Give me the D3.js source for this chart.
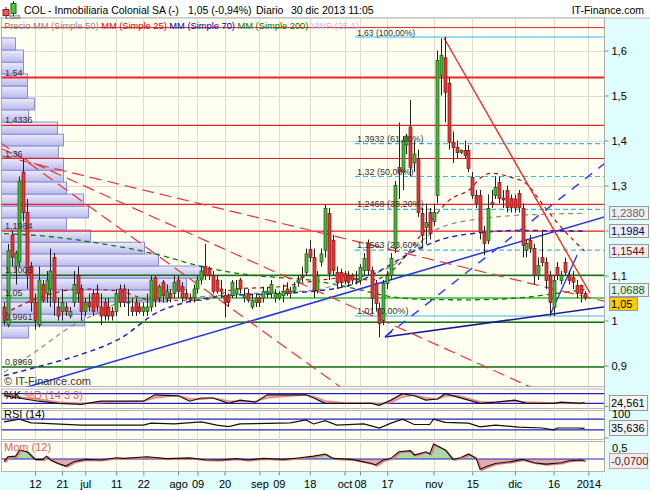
<!DOCTYPE html>
<html><head><meta charset="utf-8">
<script src="https://cdn.jsdelivr.net/npm/d3@7"></script>
<style>
body{margin:0;background:#fff;}
svg text{font-family:"Liberation Sans",Arial,sans-serif;}
</style></head>
<body><svg id="c" width="650" height="490"></svg>
<script>
// ---------------- DATA ----------------
const opens  = [1.03,0.99,1.19,1.12,1.13,1.33,1.24,1.12,1.04,0.99,1.08,1.06,1.07,1.14,1.03,1.02,1.03,1.01,1.04,1.10,1.07,1.02,1.04,1.06,1.06,1.03,1.04,1.03,1.02,1.02,
1.07,1.07,1.04,1.03,1.04,1.03,1.02,1.02,1.03,1.095,1.05,1.085,1.05,1.06,1.06,1.09,1.075,1.06,1.05,1.05,1.07,1.09,1.12,1.115,1.10,1.09,1.07,1.055,1.055,1.055,
1.06,1.09,1.05,1.06,1.03,1.04,1.05,1.05,1.06,1.06,1.05,1.05,1.055,1.07,1.06,1.065,1.085,1.10,1.107,1.158,1.14,1.067,1.13,1.156,1.238,1.178,1.107,1.107,1.104,1.10,
1.10,1.09,1.089,1.111,1.171,1.111,1.082,1.027,1.00,1.082,1.10,1.16,1.34,1.33,1.39,1.43,1.35,1.36,1.238,1.207,1.24,1.22,1.278,1.544,1.584,1.527,1.396,1.385,1.374,1.378,
1.378,1.318,1.278,1.278,1.196,1.178,1.262,1.278,1.307,1.272,1.289,1.271,1.27,1.282,1.249,1.156,1.178,1.16,1.10,1.14,1.129,1.10,1.029,1.118,1.089,1.129,1.10,1.095,1.078,1.078,1.06];
const highs  = [1.04,1.17,1.20,1.155,1.32,1.36,1.27,1.13,1.06,1.12,1.09,1.11,1.16,1.15,1.05,1.07,1.04,1.03,1.11,1.12,1.08,1.05,1.06,1.07,1.08,1.06,1.05,1.05,1.03,1.07,
1.08,1.08,1.07,1.05,1.05,1.04,1.04,1.06,1.10,1.10,1.08,1.09,1.08,1.07,1.10,1.10,1.085,1.07,1.06,1.08,1.10,1.12,1.17,1.12,1.11,1.10,1.09,1.07,1.06,1.09,
1.09,1.095,1.07,1.07,1.06,1.06,1.055,1.075,1.075,1.09,1.07,1.065,1.08,1.085,1.075,1.085,1.10,1.12,1.16,1.178,1.16,1.11,1.16,1.258,1.25,1.19,1.12,1.115,1.11,1.11,
1.105,1.11,1.125,1.15,1.18,1.12,1.09,1.04,1.09,1.11,1.15,1.31,1.44,1.41,1.415,1.49,1.40,1.38,1.25,1.26,1.25,1.26,1.60,1.627,1.63,1.54,1.42,1.40,1.38,1.40,
1.39,1.33,1.29,1.29,1.21,1.28,1.29,1.32,1.32,1.29,1.30,1.28,1.28,1.29,1.26,1.18,1.19,1.17,1.14,1.20,1.14,1.11,1.10,1.13,1.11,1.14,1.11,1.11,1.09,1.08,1.065];
const lows   = [0.99,0.985,1.12,1.08,1.12,1.22,1.07,1.02,0.98,0.985,1.04,1.04,1.03,1.01,1.00,1.00,1.01,1.005,1.03,1.04,1.00,1.01,1.02,1.01,1.02,0.99,1.00,1.00,1.00,1.01,
1.03,1.03,1.01,1.01,1.01,1.015,1.01,1.01,1.02,1.03,1.04,1.04,1.04,1.04,1.05,1.05,1.04,1.045,1.04,1.04,1.06,1.08,1.09,1.09,1.06,1.06,1.05,1.007,1.03,1.05,
1.05,1.06,1.04,1.04,1.025,1.03,1.03,1.04,1.05,1.05,1.04,1.045,1.04,1.055,1.05,1.06,1.075,1.085,1.10,1.13,1.05,1.06,1.12,1.14,1.09,1.10,1.07,1.075,1.08,1.075,
1.08,1.08,1.08,1.10,1.10,1.016,1.02,0.963,0.99,1.07,1.09,1.15,1.27,1.29,1.37,1.32,1.33,1.23,1.16,1.17,1.18,1.21,1.26,1.50,1.44,1.38,1.35,1.36,1.37,1.36,
1.33,1.27,1.25,1.18,1.145,1.17,1.25,1.27,1.26,1.25,1.24,1.24,1.24,1.24,1.14,1.14,1.15,1.08,1.09,1.12,1.07,1.01,1.01,1.09,1.08,1.10,1.08,1.07,1.05,1.04,1.045];
const closes = [1.00,1.155,1.14,1.15,1.31,1.24,1.10,1.04,1.00,1.09,1.045,1.09,1.11,1.04,1.01,1.04,1.02,1.02,1.08,1.06,1.02,1.04,1.03,1.02,1.03,1.01,1.01,1.01,1.01,1.06,
1.04,1.04,1.041,1.02,1.02,1.02,1.03,1.03,1.09,1.045,1.075,1.055,1.065,1.05,1.085,1.065,1.05,1.05,1.045,1.07,1.09,1.11,1.10,1.10,1.065,1.065,1.065,1.04,1.04,1.085,
1.07,1.07,1.055,1.045,1.045,1.05,1.04,1.065,1.065,1.08,1.06,1.06,1.065,1.06,1.065,1.075,1.09,1.095,1.148,1.14,1.067,1.10,1.148,1.249,1.104,1.111,1.084,1.084,1.089,1.085,
1.09,1.092,1.118,1.138,1.111,1.049,1.038,0.993,1.082,1.10,1.138,1.30,1.33,1.40,1.41,1.34,1.37,1.24,1.189,1.218,1.193,1.24,1.578,1.589,1.507,1.396,1.384,1.373,1.378,1.367,
1.338,1.278,1.26,1.196,1.171,1.249,1.258,1.296,1.271,1.268,1.251,1.251,1.25,1.251,1.167,1.171,1.16,1.10,1.122,1.129,1.089,1.04,1.089,1.10,1.10,1.107,1.089,1.085,1.06,1.06,1.05];

const tickIdx    = [8,15,21,29,36,45,50,57,66,71,79,88,92,99,111,121,132,142,151];
const tickLabels = ["12","21","jul","11","22","ago","09","20","sep","09","18","oct","08","17","nov","15","dic","16","2014"];
const priceTicks = [0.9,1.0,1.1,1.2,1.3,1.4,1.5,1.6];
const priceTickLabels = ["0,9","1","1,1","","1,3","1,4","1,5","1,6"];

// horizontal levels
const levelValues = [1.6509,1.54,1.4336,1.36,1.258,1.1984,1.1005,1.05,0.9961,0.8969];
const levelLabels = ["1,6509","1,54","1,4336","1,36","","1,1984","1,1005","1,05","0,9961","0,8969"];
// fibonacci retracement
const fibValues = [1.63,1.3932,1.32,1.2468,1.1563,1.01];
const fibLabels = ["1,63 (100,00%)","1,3932 (61,80%)","1,32 (50,00%)","1,2468 (38,20%)","1,1563 (23,60%)","1,01 (0,00%)"];
const fibStartIdx = 90.7;

// moving averages
const ma25Idx = [0,9,20,30,38,51,60,71,82,88,95,101,108,115,121,123,126,131,135,139,144,150];
const ma25Val = [1.015,1.05,1.07,1.065,1.045,1.045,1.07,1.075,1.09,1.095,1.09,1.116,1.193,1.267,1.296,1.316,1.327,1.318,1.304,1.26,1.207,1.1544];
const ma50Idx = [0,8,17,25,30,46,60,70,80,89,100,113,126,139,150];
const ma50Val = [0.885,0.93,0.985,1.02,1.04,1.05,1.058,1.063,1.067,1.089,1.12,1.207,1.229,1.236,1.238];
const ma70Idx = [0,10,20,30,40,47,58,72,88,97,105,113,123,133,150];
const ma70Val = [0.877,0.9,0.925,0.96,1.02,1.04,1.055,1.06,1.075,1.11,1.15,1.18,1.195,1.2,1.1984];
const ma200Idx = [0,10,25,39,51,61,70,78,89,100,108,120,133,139,150];
const ma200Val = [1.193,1.188,1.171,1.148,1.12,1.104,1.096,1.091,1.074,1.053,1.047,1.046,1.05,1.056,1.0688];

// trend lines (two anchor points each, in bar index / price)
const lineI1 = [3.36,98.45,98.45,141.1,113.7,4.65,24.8,27.4,98.45];
const lineP1 = [0.8456,0.9633,0.9633,1.0122,1.6278,1.3611,1.2833,1.3078,0.9633];
const lineI2 = [155,155,155,148.1,151.4,85.5,103.9,150.6,100.6];
const lineP2 = [1.23,1.03,1.3478,1.1456,1.0611,0.8611,0.9767,1.0522,0.9811];

// volume-at-price profile (price bin edges, volume per bin)
const vpEdges = [0.961,0.988,1.014,1.041,1.068,1.094,1.121,1.148,1.174,1.201,1.228,1.254,1.281,1.308,1.334,1.361,1.388,1.414,1.441,1.468,1.494,1.521,1.548,1.574,1.601,1.628];
const vpVolumes = [27,83,105,165,185,202,157,143,89,65,87,82,65,62,62,57,62,56,27,33,26,26,22,22,14];

// right-side value boxes
const boxValues = [1.2380,1.1984,1.1544,1.0688,1.05];
const boxLabels = ["1,2380","1,1984","1,1544","1,0688","1,05"];

// indicators
const stochIdx = [0,9,14,20,25,36,39,45,48,51,54,58,61,65,68,78,80,83,88,95,97,100,103,106,109,112,114,117,120,123,127,132,135,142,144,149,150];
const stochK   = [67,33,20,13,33,33,73,67,33,53,53,20,40,27,73,73,53,20,20,20,7,40,80,67,40,47,80,60,40,20,27,40,20,20,27,20,24.561];
const stochD   = [70,45,28,18,25,33,55,68,48,45,53,35,32,32,55,73,62,35,22,20,15,25,60,72,55,45,65,68,50,30,25,35,28,22,24,22,22];
const rsiIdx = [0,4,7,9,20,36,38,44,51,55,58,61,68,74,78,80,83,86,93,97,100,103,106,110,111,114,120,123,127,133,139,142,143,148,150];
const rsiVal = [60,70,56,55,48,48,55,52,60,48,42,52,54,56,67,52,64,48,52,37,55,70,50,50,70,58,55,41,48,40,37,30,37,37,35.636];
const momIdx = [0,1,3,4,6,8,10,11,12,14,16,18,21,25,29,31,37,42,48,52,56,60,63,67,72,76,80,83,85,90,95,96,98,100,102,105,106,109,110,111,114,116,118,120,122,123,125,127,131,134,137,140,144,146,149,150];
const momVal = [-0.12,0.1,0.13,0.41,0.33,-0.015,-0.015,0.13,-0.045,-0.2,-0.32,-0.12,-0.015,-0.045,0.06,0.03,0.1,0.02,0.05,-0.03,-0.045,0.02,-0.045,0.03,-0.015,0.05,0.13,0.23,0.03,-0.015,-0.2,-0.27,-0.045,0.03,0.33,0.38,0.18,0.33,0.23,0.68,0.41,-0.015,0.06,0.23,0.03,-0.47,-0.32,-0.2,-0.12,-0.015,-0.17,-0.23,-0.17,-0.076,-0.045,-0.07];

// ---------------- LAYOUT / STYLES ----------------
const PL = 1.5, PR = 604.5;
const MAIN = {t:18, b:386.5}, STO = {t:389, b:408.5}, RSI = {t:410.5, b:439.5}, MOM = {t:441.5, b:471.5};
const levelStyles = [
  {c:'#ee2222',w:1},{c:'#ee2222',w:2.2},{c:'#ee2222',w:1.2},{c:'#dd2222',w:1.2},{c:'#ee2222',w:1.2},
  {c:'#ee2222',w:1.2},{c:'#117711',w:1.5},{c:'#33bb33',w:1.5},{c:'#117711',w:1.5},{c:'#117711',w:1.5}];
const lineStyles = [
  {c:'#2233ee',w:1.5,d:null,ext:'both'},
  {c:'#1a1a99',w:1.5,d:null,ext:'right'},
  {c:'#3344ff',w:1.5,d:'9,8',ext:'right'},
  {c:'#2233ee',w:1.3,d:null,ext:'none'},
  {c:'#ee2222',w:1.3,d:null,ext:'none'},
  {c:'#ee3333',w:1.2,d:'12,6',ext:'both'},
  {c:'#ee3333',w:1.2,d:'12,6',ext:'both'},
  {c:'#ee3333',w:1.2,d:'12,6',ext:'both'},
  {c:'#2233ee',w:1.2,d:null,ext:'none'}];
const boxStyles = [
  {t:'#666',f:'#eeeeee',w:39},{t:'#000080',f:'#eeeeee',w:39},{t:'#800000',f:'#eeeeee',w:39},
  {t:'#006400',f:'#eeeeee',w:39},{t:'#000',f:'#ffcc00',w:28}];

const svg = d3.select('#c');
const defs = svg.append('defs');
const gr = defs.append('linearGradient').attr('id','vpg').attr('x1',0).attr('y1',0).attr('x2',0).attr('y2',1);
gr.append('stop').attr('offset','0%').attr('stop-color','#ececfd');
gr.append('stop').attr('offset','100%').attr('stop-color','#b9b9ec');
function clip(id, p){ defs.append('clipPath').attr('id',id).append('rect')
  .attr('x',PL).attr('y',p.t).attr('width',PR-PL).attr('height',p.b-p.t); }
clip('cm',MAIN); clip('cs',STO); clip('cr',RSI); clip('cmo',MOM);

const x = d3.scaleLinear().domain([0,150]).range([4,584.5]);
const y = d3.scaleLinear().domain([0.9,1.6]).range([365.5,50.5]);
const sY = d3.scaleLinear().domain([0,100]).range([406.5,390.5]);
const rY = d3.scaleLinear().domain([0,100]).range([438,411]);
const mY = d3.scaleLinear().domain([-0.545,0.82]).range([471,441]);
const vX = d3.scaleLinear().domain([0,200]).range([PL,PL+200]);

// backgrounds
svg.append('rect').attr('width',650).attr('height',490).attr('fill','#fff');
svg.append('rect').attr('x',PR).attr('y',MAIN.t).attr('width',650-PR).attr('height',490-MAIN.t).attr('fill','#e0fdfd');
svg.append('rect').attr('x',0).attr('y',MOM.b).attr('width',PR).attr('height',490-MOM.b).attr('fill','#e0fdfd');
svg.append('line').attr('x1',0).attr('x2',650).attr('y1',MAIN.t).attr('y2',MAIN.t).attr('stroke','#bbb');
[MAIN,STO,RSI,MOM].forEach(p=>{
  svg.append('rect').attr('x',PL).attr('y',p.t).attr('width',PR-PL).attr('height',p.b-p.t)
    .attr('fill','#fffff2').attr('stroke','#b5b5b5');
});

// header
const hd = svg.append('g');
hd.append('line').attr('x1',6).attr('x2',6).attr('y1',7).attr('y2',17).attr('stroke','#333');
hd.append('rect').attr('x',3).attr('y',9.5).attr('width',6).attr('height',6).attr('fill','#ee5555').attr('stroke','#882222');
hd.append('line').attr('x1',13.5).attr('x2',13.5).attr('y1',1).attr('y2',16).attr('stroke','#333');
hd.append('rect').attr('x',11).attr('y',3.5).attr('width',5).attr('height',10).attr('fill','#44cc33').attr('stroke','#226622');
hd.append('text').attr('x',24).attr('y',14).attr('font-size',10.5).attr('fill','#000')
  .text('COL - Inmobiliaria Colonial SA (-)');
hd.append('text').attr('x',188).attr('y',14).attr('font-size',10.5).text('1,05 (-0,94%)');
hd.append('text').attr('x',256).attr('y',14).attr('font-size',10.5).text('Diario');
hd.append('text').attr('x',291).attr('y',14).attr('font-size',10.5).text('30 dic 2013 11:05');
hd.append('text').attr('x',644).attr('y',14).attr('font-size',10.5).attr('text-anchor','end').text('IT-Finance.com');

// grids
function vgrid(p){
  svg.append('g').selectAll('line').data(tickIdx).join('line')
    .attr('x1',d=>Math.round(x(d))+0.5).attr('x2',d=>Math.round(x(d))+0.5)
    .attr('y1',p.t).attr('y2',p.b).attr('stroke','#dcdcd4').attr('stroke-width',1);
}
[MAIN,STO,RSI,MOM].forEach(vgrid);
svg.append('g').selectAll('line').data(priceTicks).join('line')
  .attr('x1',PL).attr('x2',PR).attr('y1',d=>Math.round(y(d))+0.5).attr('y2',d=>Math.round(y(d))+0.5)
  .attr('stroke','#dcdcd4');

const gm = svg.append('g').attr('clip-path','url(#cm)');

// volume profile
gm.append('g').selectAll('rect').data(vpVolumes).join('rect')
  .attr('x',vX(0)).attr('width',d=>vX(d)-vX(0))
  .attr('y',(d,i)=>y(vpEdges[i+1])).attr('height',(d,i)=>y(vpEdges[i])-y(vpEdges[i+1]))
  .attr('fill','url(#vpg)').attr('stroke','#8c8cd0').attr('stroke-width',1);

// level lines
levelValues.forEach((v,i)=>{
  gm.append('line').attr('x1',PL).attr('x2',PR).attr('y1',y(v)).attr('y2',y(v))
    .attr('stroke',levelStyles[i].c).attr('stroke-width',levelStyles[i].w);
});
// fibonacci
fibValues.forEach((v,i)=>{
  const solid = (i===0||i===fibValues.length-1);
  gm.append('line').attr('x1',x(fibStartIdx)).attr('x2',PR).attr('y1',y(v)).attr('y2',y(v))
    .attr('stroke','#33bbee').attr('stroke-width',1.2).attr('stroke-dasharray',solid?null:'5,3');
});

// moving averages
function maLine(idx, val, col, w, dash){
  const ln = d3.line().x((d,i)=>x(idx[i])).y(d=>y(d)).curve(d3.curveMonotoneX);
  gm.append('path').datum(val).attr('d',ln).attr('fill','none')
    .attr('stroke',col).attr('stroke-width',w).attr('stroke-dasharray',dash);
}
maLine(ma200Idx, ma200Val, '#117711', 1.3, '5,4');
maLine(ma50Idx, ma50Val, '#8a8a8a', 1.2, '5,4');
maLine(ma70Idx, ma70Val, '#2222cc', 1.5, '5,4');
maLine(ma25Idx, ma25Val, '#aa1111', 1.2, '4,4');

// trend lines
lineI1.forEach((i1,k)=>{
  const s = (lineP2[k]-lineP1[k])/(lineI2[k]-i1);
  const st = lineStyles[k];
  let a = i1, b = lineI2[k];
  if (st.ext==='both'){ a = -5; b = 160; }
  if (st.ext==='right'){ b = 160; }
  gm.append('line').attr('x1',x(a)).attr('y1',y(lineP1[k]+s*(a-i1)))
    .attr('x2',x(b)).attr('y2',y(lineP1[k]+s*(b-i1)))
    .attr('stroke',st.c).attr('stroke-width',st.w).attr('stroke-dasharray',st.d);
});

// candles
const cg = gm.append('g');
closes.forEach((c,i)=>{
  const o = opens[i], up = c>=o;
  const cx = Math.round(x(i))+0.5;
  cg.append('line').attr('x1',cx).attr('x2',cx).attr('y1',y(highs[i])).attr('y2',y(lows[i]))
    .attr('stroke','#222').attr('stroke-width',1);
  const top = y(Math.max(o,c)), bot = y(Math.min(o,c));
  cg.append('rect').attr('x',cx-1.5).attr('width',3).attr('y',top).attr('height',Math.max(1,bot-top))
    .attr('fill',up?'#44bb33':'#ee3333').attr('stroke',up?'#1d4d1d':'#6d1d1d').attr('stroke-width',0.7);
});

// labels in main
levelValues.forEach((v,i)=>{
  if(!levelLabels[i] || i===0) return;
  gm.append('text').attr('x',5).attr('y',y(v)-2).attr('font-size',9).attr('fill','#333').text(levelLabels[i]);
});
fibValues.forEach((v,i)=>{
  gm.append('text').attr('x',x(fibStartIdx)+2).attr('y',y(v)-2+(i===0?0.5:0)).attr('font-size',i===0?8.5:9).attr('fill','#333').text(fibLabels[i]);
});
gm.append('text').attr('x',4).attr('y',385).attr('font-size',11).attr('fill','#333').text('\u00a9 IT-Finance.com');

// legend (the 1,6509 level label sits tucked just above it)
svg.append('text').attr('x',5).attr('y',19.3).attr('font-size',5).attr('fill','#333').text(levelLabels[0]);
const lg = svg.append('text').attr('x',4).attr('y',28.8).attr('font-size',9.3);
[['Precio','#777'],['MM (Simple 50)','#888'],['MM (Simple 25)','#cc0000'],['MM (Simple 70)','#0000aa'],['MM (Simple 200)','#007700'],['VWP (25,1)','#bbbbee']]
 .forEach((d,i)=>lg.append('tspan').attr('fill',d[1]).text((i?' ':'')+d[0]));

// right price axis
const ax = svg.append('g').attr('transform',`translate(${PR},0)`)
  .call(d3.axisRight(y).tickValues(priceTicks).tickSize(4).tickFormat((d,i)=>priceTickLabels[i]));
ax.select('.domain').remove();
ax.selectAll('line').attr('stroke','#888');
ax.selectAll('text').attr('font-size',11).attr('fill','#000').attr('font-family','Liberation Sans, Arial');

// value boxes (stacked so they do not collide, as the platform does)
const order = boxValues.map((v,i)=>i).sort((a,b)=>y(boxValues[a])-y(boxValues[b]));
let lastBottom = -1e9;
order.forEach(i=>{
  const st = boxStyles[i];
  let top = Math.round(y(boxValues[i]))-6.5;
  if (top < lastBottom + 1) top = lastBottom + 1;
  lastBottom = top + 13;
  svg.append('rect').attr('x',609.5).attr('y',top).attr('width',st.w).attr('height',13)
    .attr('fill',st.f).attr('stroke','#999');
  svg.append('text').attr('x',611).attr('y',top+10.5).attr('font-size',11).attr('fill',st.t).text(boxLabels[i]);
});

// ---------- stochastic ----------
const gs = svg.append('g').attr('clip-path','url(#cs)');
[80,20].forEach(v=>gs.append('line').attr('x1',PL).attr('x2',PR).attr('y1',sY(v)).attr('y2',sY(v)).attr('stroke','#2222cc').attr('stroke-width',1.2));
gs.append('path').datum(stochIdx).attr('fill','#f2a3a3').attr('opacity',0.75)
  .attr('d',d3.area().x(d=>x(d)).y0((d,i)=>sY(stochD[i])).y1((d,i)=>sY(stochK[i])));
gs.append('path').datum(stochD).attr('fill','none').attr('stroke','#f08080').attr('stroke-width',1.5)
  .attr('d',d3.line().x((d,i)=>x(stochIdx[i])).y(d=>sY(d)));
gs.append('path').datum(stochK).attr('fill','none').attr('stroke','#111').attr('stroke-width',1.2)
  .attr('d',d3.line().x((d,i)=>x(stochIdx[i])).y(d=>sY(d)));
const st = svg.append('text').attr('x',4).attr('y',399).attr('font-size',11);
st.append('tspan').attr('fill','#000').text('%K ');
st.append('tspan').attr('fill','#e06060').text('%D (14 3 3)');

// ---------- RSI ----------
const grs = svg.append('g').attr('clip-path','url(#cr)');
[70,30].forEach(v=>grs.append('line').attr('x1',PL).attr('x2',PR).attr('y1',rY(v)).attr('y2',rY(v)).attr('stroke','#2222cc').attr('stroke-width',1.2));
grs.append('path').datum(rsiVal).attr('fill','none').attr('stroke','#111').attr('stroke-width',1.2)
  .attr('d',d3.line().x((d,i)=>x(rsiIdx[i])).y(d=>rY(d)));
svg.append('text').attr('x',4).attr('y',418).attr('font-size',11).attr('fill','#000').text('RSI (14)');

// ---------- Momentum ----------
const gmo = svg.append('g').attr('clip-path','url(#cmo)');
defs.append('clipPath').attr('id','mup').append('rect').attr('x',PL).attr('y',MOM.t).attr('width',PR-PL).attr('height',mY(0)-MOM.t);
defs.append('clipPath').attr('id','mdn').append('rect').attr('x',PL).attr('y',mY(0)).attr('width',PR-PL).attr('height',MOM.b-mY(0));
const mArea = d3.area().x((d,i)=>x(momIdx[i])).y0(mY(0)).y1(d=>mY(d));
gmo.append('path').datum(momVal).attr('d',mArea).attr('fill','#a9d9a4').attr('clip-path','url(#mup)');
gmo.append('path').datum(momVal).attr('d',mArea).attr('fill','#e2acac').attr('clip-path','url(#mdn)');
gmo.append('line').attr('x1',PL).attr('x2',PR).attr('y1',mY(0)).attr('y2',mY(0)).attr('stroke','#2222cc').attr('stroke-width',1.2);
gmo.append('path').datum(momVal).attr('fill','none').attr('stroke','#f07070').attr('stroke-width',1.6)
  .attr('transform','translate(1.5,0.8)').attr('d',d3.line().x((d,i)=>x(momIdx[i])).y(d=>mY(d)));
gmo.append('path').datum(momVal).attr('fill','none').attr('stroke','#111').attr('stroke-width',1.1)
  .attr('d',d3.line().x((d,i)=>x(momIdx[i])).y(d=>mY(d)));
svg.append('text').attr('x',4).attr('y',451).attr('font-size',11).attr('fill','#e06060').text('Mom (12)');

// sub-panel right labels
function rbox(yc, label, fill, stroke, tcol){
  svg.append('rect').attr('x',609.5).attr('y',Math.round(yc)-7.5).attr('width',38).attr('height',15).attr('fill',fill).attr('stroke',stroke);
  svg.append('text').attr('x',611).attr('y',Math.round(yc)+4).attr('font-size',11).attr('fill',tcol).text(label);
}
rbox(sY(24.561), '24,561', '#f4f4f4', '#999', '#000');
rbox(rY(35.636), '35,636', '#f4f4f4', '#999', '#000');
svg.append('text').attr('x',612).attr('y',418).attr('font-size',11).text('100');
svg.append('text').attr('x',612).attr('y',452).attr('font-size',11).text('0,5');
rbox(mY(-0.07), '-0,0700', '#fbe8e8', '#d0a0a0', '#333');
[sY(0), rY(0)].forEach(v=>svg.append('line').attr('x1',PR).attr('x2',PR+4).attr('y1',v).attr('y2',v).attr('stroke','#888'));

// x axis
const xa = svg.append('g').attr('transform',`translate(0,${MOM.b})`)
  .call(d3.axisBottom(x).tickValues(tickIdx).tickSize(4).tickFormat((d,i)=>tickLabels[i]));
xa.select('.domain').remove();
xa.selectAll('line').attr('stroke','#888');
xa.selectAll('text').attr('font-size',11).attr('fill','#000').attr('dy','0.9em').attr('font-family','Liberation Sans, Arial');
svg.append('line').attr('x1',PR).attr('x2',PR).attr('y1',MAIN.t).attr('y2',MOM.b).attr('stroke','#aaa');
</script></body></html>
